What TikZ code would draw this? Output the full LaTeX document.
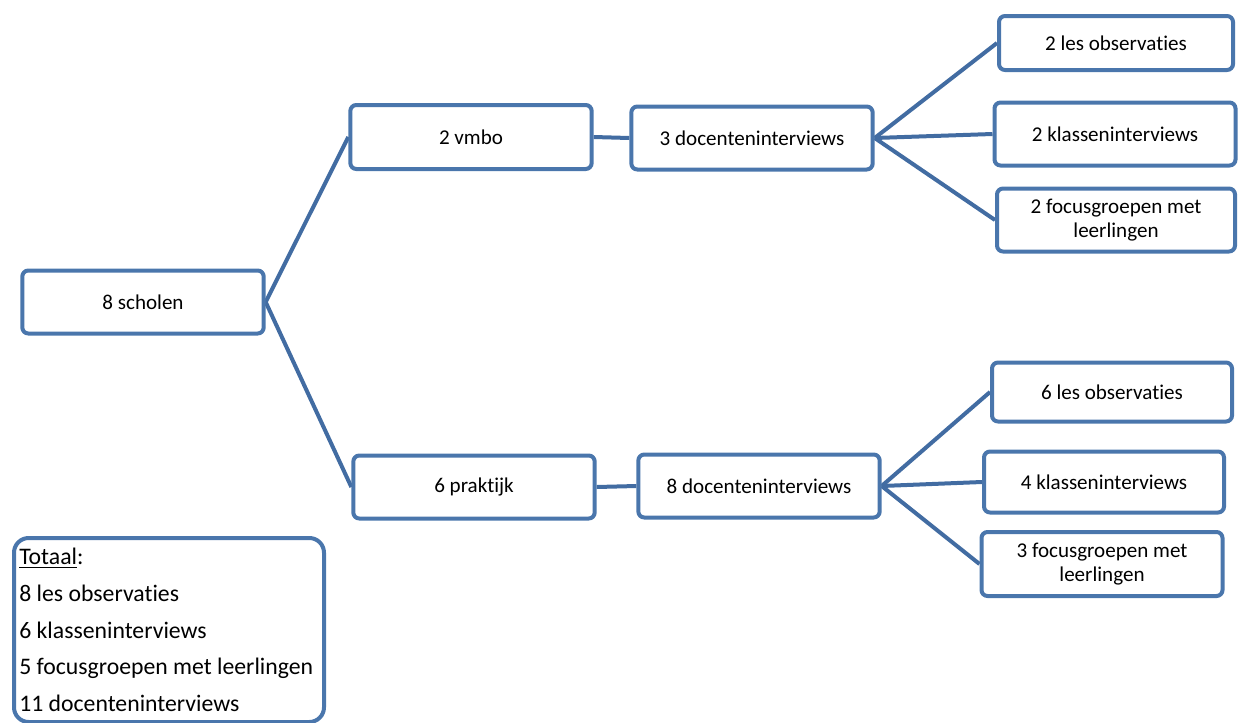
\documentclass[tikz,border=0pt]{standalone}
\usepackage{fontspec}
\setmainfont{Carlito}[Ligatures={NoCommon}]
\usetikzlibrary{backgrounds}
\definecolor{kader}{RGB}{74,118,172}
\definecolor{verbind}{RGB}{66,108,162}
\tikzstyle{blok}=[draw=kader, line width=3pt, fill=white, rounded corners=4.5pt,
  align=center, minimum width=181pt, minimum height=47.25pt, inner sep=2pt,
  font=\fontsize{15.8}{18}\selectfont]
\tikzstyle{totaal}=[blok, rounded corners=11pt, minimum width=232.5pt,
  minimum height=138pt]
\tikzstyle{lijst}=[anchor=west, align=left, inner sep=0pt,
  font=\fontsize{17.8}{27.5}\selectfont]
\tikzstyle{line}=[draw=verbind, line width=3pt]

\begin{document}
\begin{tikzpicture}[x=0.75pt,y=-0.75pt]
  \useasboundingbox (0,0) rectangle (1246,722);

  % Draw diagram elements
  % scholen en schooltypen
  \node (SCHOLEN) [blok] at (143,302) {8 scholen};
  \node (VMBO) [blok, minimum height=48pt] at (471,137) {2 vmbo};
  \node (PRAKTIJK) [blok] at (474,487) {6 praktijk};

  % vmbo tak
  \node (DOCVMBO) [blok] at (752,138) {3 docenteninterviews};
  \node (LESVMBO) [blok, minimum width=175.5pt, minimum height=40.5pt] at (1116,43) {2 les observaties};
  \node (KLASVMBO) [blok, minimum width=180.75pt] at (1115,134) {2 klasseninterviews};
  \node (FOCUSVMBO) [blok, minimum width=178.5pt] at (1116,220) {2 focusgroepen met\\leerlingen};

  % praktijk tak
  \node (DOCPRAKTIJK) [blok] at (759,486) {8 docenteninterviews};
  \node (LESPRAKTIJK) [blok, minimum width=180pt, minimum height=44.25pt] at (1112,392) {6 les observaties};
  \node (KLASPRAKTIJK) [blok, minimum width=180pt, minimum height=45.75pt] at (1104,482) {4 klasseninterviews};
  \node (FOCUSPRAKTIJK) [blok, minimum width=180.75pt, minimum height=48pt] at (1102,564) {3 focusgroepen met\\leerlingen};

  % totaal
  \node (TOTAAL) [totaal] at (169,630) {};
  \node (TOTAALTEKST) [lijst] at (19,630) {\underline{Totaal}:\\8 les observaties\\6 klasseninterviews\\5 focusgroepen met leerlingen\\11 docenteninterviews};

  % Draw lines between elements
  \begin{scope}[on background layer]
    \path [line] (SCHOLEN.east) -- (VMBO.west);
    \path [line] (SCHOLEN.east) -- (PRAKTIJK.west);
    \path [line] (VMBO.east) -- (DOCVMBO.west);
    \path [line] (PRAKTIJK.east) -- (DOCPRAKTIJK.west);
    \path [line] (DOCVMBO.east) -- (LESVMBO.west);
    \path [line] (DOCVMBO.east) -- (KLASVMBO.west);
    \path [line] (DOCVMBO.east) -- (FOCUSVMBO.west);
    \path [line] (DOCPRAKTIJK.east) -- (LESPRAKTIJK.west);
    \path [line] (DOCPRAKTIJK.east) -- (KLASPRAKTIJK.west);
    \path [line] (DOCPRAKTIJK.east) -- (FOCUSPRAKTIJK.west);
  \end{scope}
\end{tikzpicture}
\end{document}
